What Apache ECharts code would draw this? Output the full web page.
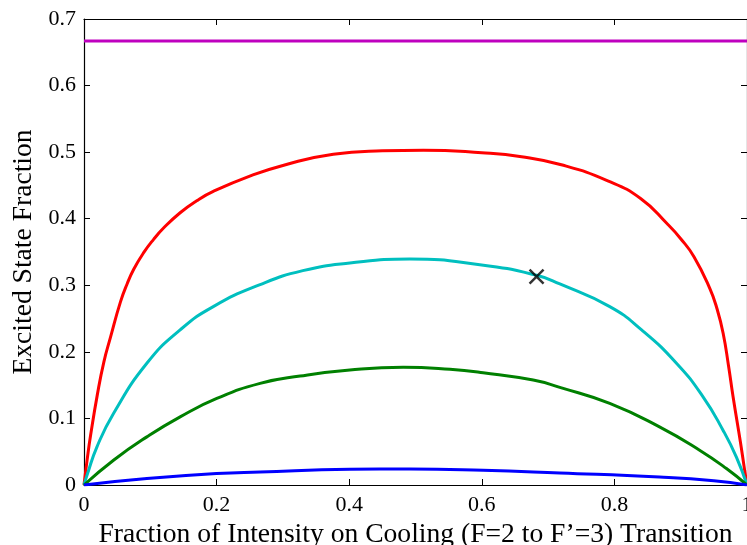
<!DOCTYPE html>
<html>
<head>
<meta charset="utf-8">
<script src="https://cdn.jsdelivr.net/npm/echarts@6/dist/echarts.min.js"></script>
<style>
  html, body { margin: 0; padding: 0; background: #fff; }
  #chart { width: 747px; height: 545px; }
</style>
</head>
<body>
<div id="chart"></div>
<script>
// values
const redX = [0, 0.005, 0.01, 0.02, 0.03, 0.04, 0.055, 0.065, 0.075, 0.09, 0.105, 0.12, 0.145, 0.17, 0.195, 0.25, 0.3, 0.376, 0.45, 0.512, 0.6, 0.66, 0.72, 0.79, 0.84, 0.88, 0.9, 0.92, 0.944, 0.955, 0.964, 0.972, 0.979, 0.99, 0.9965, 1]
const redY = [0, 0.04, 0.075, 0.135, 0.185, 0.222, 0.275, 0.302, 0.324, 0.349, 0.369, 0.386, 0.409, 0.427, 0.441, 0.464, 0.48, 0.497, 0.502, 0.503, 0.499, 0.493, 0.481, 0.457, 0.43, 0.392, 0.37, 0.343, 0.295, 0.264, 0.228, 0.18, 0.1325, 0.065, 0.022, 0]

const cyanX = [0, 0.005, 0.0194, 0.0445, 0.0948, 0.145, 0.195, 0.2656, 0.33, 0.401, 0.4915, 0.597, 0.6826, 0.7177, 0.793, 0.841, 0.8936, 0.9337, 0.964, 0.984, 1]
const cyanY = [0, 0.016, 0.057, 0.1075, 0.1828, 0.233, 0.268, 0.301, 0.322, 0.3334, 0.3394, 0.331, 0.315, 0.302, 0.268, 0.233, 0.183, 0.1325, 0.082, 0.042, 0]

const greenX = [0, 0.0445, 0.0948, 0.145, 0.2003, 0.2656, 0.326, 0.401, 0.4815, 0.552, 0.602, 0.6775, 0.7177, 0.793, 0.868, 0.9285, 0.969, 1]
const greenY = [0, 0.0372, 0.0723, 0.1024, 0.13, 0.1527, 0.1637, 0.1727, 0.1768, 0.1738, 0.1687, 0.1577, 0.1467, 0.1226, 0.0873, 0.0523, 0.0247, 0]

const blueX = [0, 0.0948, 0.2, 0.2656, 0.401, 0.4915, 0.602, 0.7177, 0.868, 0.95, 1]
const blueY = [0, 0.0096, 0.0172, 0.0196, 0.0236, 0.0241, 0.0221, 0.018, 0.012, 0.0065, 0]

const magentaX = [0, 1]
const magentaY = [0.667, 0.667]

const markerX = [0.6826]
const markerY = [0.313]

const zip = (xs, ys) => xs.map((x, i) => [x, ys[i]])
const fmt = (v) => String(+v.toFixed(1))

const font = "Liberation Serif"
const axisCommon = {
  type: "value",
  axisLine: { show: true, onZero: false, lineStyle: { color: "#000", width: 1.2 } },
  axisTick: { show: true, inside: true, length: 6, lineStyle: { color: "#000", width: 1 } },
  splitLine: { show: false },
}

const chart = echarts.init(document.getElementById("chart"))

const lineSeries = (name, xs, ys, color) => ({
  name,
  type: "line",
  data: zip(xs, ys),
  showSymbol: false,
  smooth: 0.5,
  lineStyle: { color, width: 3 },
  itemStyle: { color },
  z: 3,
})

chart.setOption({
  animation: false,
  backgroundColor: "#fff",
  grid: { left: 84, right: 0, top: 19, bottom: 60, show: false, outerBoundsMode: "none", containLabel: false },
  xAxis: [
    {
      ...axisCommon,
      min: 0,
      max: 1,
      interval: 0.2,
      name: "Fraction of Intensity on Cooling (F=2 to F\u2019=3) Transition",
      nameLocation: "middle",
      nameGap: 27,
      nameTextStyle: { fontFamily: font, fontSize: 27.6, color: "#000" },
      axisLabel: { fontFamily: font, fontSize: 22, color: "#000", margin: 9, formatter: fmt },
    },
    {
      ...axisCommon,
      position: "top",
      min: 0,
      max: 1,
      interval: 0.2,
      axisLabel: { show: false },
    },
  ],
  yAxis: [
    {
      ...axisCommon,
      min: 0,
      max: 0.7,
      interval: 0.1,
      name: "Excited State Fraction",
      nameLocation: "middle",
      nameGap: 46,
      nameTextStyle: { fontFamily: font, fontSize: 27.6, color: "#000" },
      axisLabel: { fontFamily: font, fontSize: 22, color: "#000", margin: 8, formatter: fmt },
    },
    {
      ...axisCommon,
      position: "right",
      min: 0,
      max: 0.7,
      interval: 0.1,
      axisLabel: { show: false },
    },
  ],
  series: [
    lineSeries("magenta", magentaX, magentaY, "#bf00bf"),
    lineSeries("red", redX, redY, "#ff0000"),
    lineSeries("cyan", cyanX, cyanY, "#00bfbf"),
    lineSeries("green", greenX, greenY, "#008000"),
    lineSeries("blue", blueX, blueY, "#0000ff"),
    {
      name: "point",
      type: "scatter",
      data: zip(markerX, markerY),
      symbol: "path://M0,0L10,10M10,0L0,10",
      symbolSize: 14,
      itemStyle: { color: "none", borderColor: "#000", borderWidth: 2.5 },
      z: 5,
    },
  ],
})

window.addEventListener("resize", () => chart.resize())
</script>
</body>
</html>
